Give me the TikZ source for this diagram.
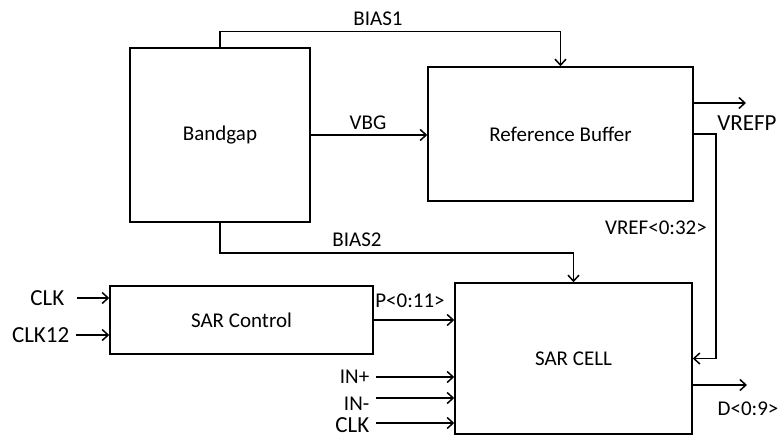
\documentclass[tikz,border=0pt]{standalone}
\usepackage{fontspec}
\setmainfont{Carlito}
\usetikzlibrary{arrows.meta,positioning}

\begin{document}
\begin{tikzpicture}[x=1pt,y=-1pt,line width=1.5pt,
    >={Straight Barb[length=6pt,width=11pt]},
    block/.style={draw,rectangle,inner sep=0pt,font=\fontsize{21}{24}\selectfont},
    sig/.style={inner sep=0pt,font=\fontsize{21}{24}\selectfont},
    bigsig/.style={inner sep=0pt,font=\fontsize{23}{26}\selectfont}]
    \useasboundingbox (0,0) rectangle (781,437);

    % Blocks
    \node[block,minimum width=180,minimum height=174] (bg) at (220,135) {Bandgap};
    \node[block,minimum width=265,minimum height=134] (rb) at (560.5,134) {Reference Buffer};
    \node[block,minimum width=263,minimum height=68] (ctl) at (241.5,320) {SAR Control};
    \node[block,minimum width=237,minimum height=151] (sc) at (573.5,358.5) {SAR CELL};

    % Bias and reference lines
    \draw[->] (bg.north) -- ++(0,-16) -| (rb.north);
    \node[sig] (bias1) at (378,19) {BIAS1};
    \draw[->] (bg.south) -- ++(0,30) -| (sc.north);
    \node[sig] (bias2) at (357,240) {BIAS2};
    \draw[->] (bg.east) -- (bg.east -| rb.west);
    \node[sig] (vbg) at (368,123) {VBG};
    \draw[->] (rb.east) -- ++(22,0) |- (sc.east);
    \node[sig] (vref) at (656,228) {VREF<0:32>};

    % Outputs
    \coordinate (vrefp) at (746,103);
    \draw[->] (rb.east |- vrefp) -- (vrefp);
    \node[bigsig] (vrefpl) at (747,123) {VREFP};
    \coordinate (dout) at (747,385);
    \draw[->] (sc.east |- dout) -- (dout);
    \node[sig] (doutl) at (748,409) {D<0:9>};

    % SAR control inputs
    \node[bigsig,anchor=east] (clka) at (65,298) {CLK};
    \draw[->,shorten <=12pt] (clka) -- (clka -| ctl.west);
    \node[bigsig,anchor=east] (clkb) at (70,335) {CLK12};
    \draw[->,shorten <=6pt] (clkb) -- (clkb -| ctl.west);
    \draw[->] (ctl.east) -- (ctl.east -| sc.west);
    \node[sig] (pl) at (410,301) {P<0:11>};

    % SAR cell inputs
    \foreach \nm/\txt/\st/\ty/\ay in {inp/IN+/sig/377/377, inn/IN-/sig/404/398, clkc/CLK/bigsig/425/423} {
        \node[\st,anchor=east] (\nm) at (370,\ty) {\txt};
        \coordinate (\nm-a) at (376,\ay);
        \draw[->] (\nm-a) -- (\nm-a -| sc.west);
    }
\end{tikzpicture}
\end{document}
